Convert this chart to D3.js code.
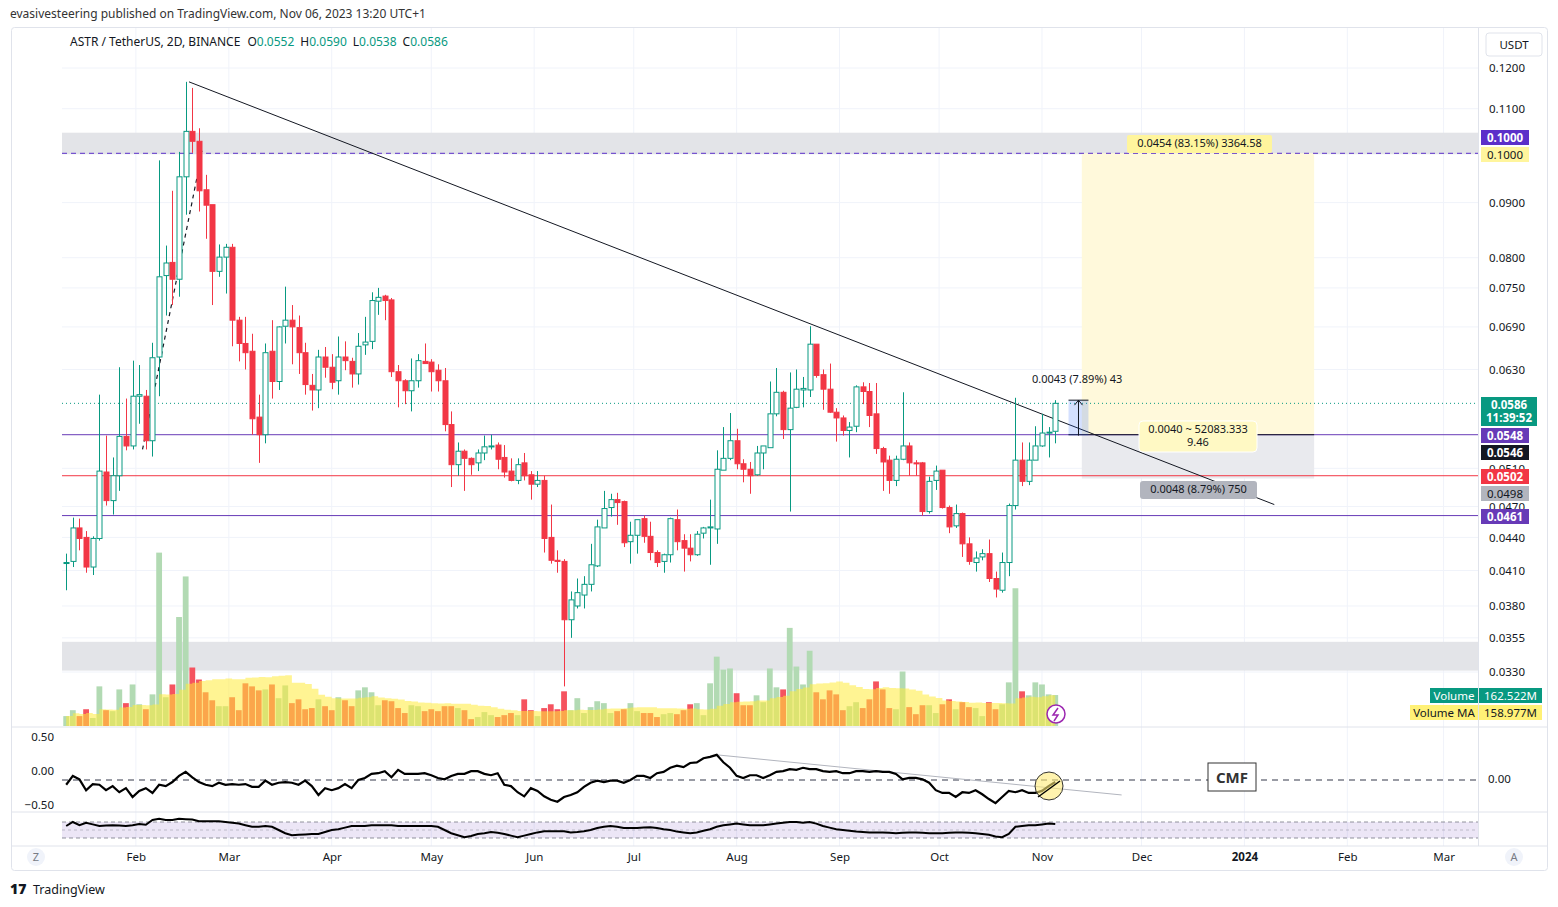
<!DOCTYPE html>
<html><head><meta charset="utf-8">
<script src="https://cdn.jsdelivr.net/npm/d3@7/dist/d3.min.js"></script>
<style>body{margin:0;background:#fff;font-family:"Noto Sans","Open Sans",sans-serif}</style>
</head><body><svg id="c" width="1558" height="907"></svg>
<script>
// ---- data (2D candles, last = Nov 05 2023) ----
const opens=[.0417,.0418,.0449,.0440,.0413,.0439,.0506,.0476,.0502,.0546,
.0535,.0595,.0595,.0541,.0647,.0770,.0792,.0764,.0951,.1048,
.1026,.0925,.0896,.0777,.0801,.0818,.0700,.0666,.0655,.0569,
.0548,.0655,.0614,.0691,.0700,.0689,.0653,.0609,.0603,.0647,
.0633,.0615,.0647,.0641,.0624,.0664,.0669,.0729,.0737,.0731,
.0627,.0615,.0602,.0615,.0641,.0640,.0629,.0615,.0560,.0514,
.0529,.0521,.0516,.0527,.0534,.0536,.0522,.0507,.0497,.0516,
.0503,.0493,.0497,.0440,.0419,.0418,.0369,.0380,.0389,.0398,
.0414,.0449,.0469,.0477,.0475,.0436,.0442,.0458,.0441,.0426,
.0418,.0424,.0457,.0437,.0430,.0424,.0444,.0449,.0448,.0508,
.0521,.0541,.0515,.0509,.0503,.0527,.0533,.0573,.0600,.0554,
.0581,.0603,.0603,.0665,.0623,.0604,.0575,.0568,.0553,.0558,
.0607,.0601,.0573,.0532,.0519,.0497,.0520,.0535,.0516,.0516,
.0465,.0497,.0508,.0469,.0451,.0463,.0434,.0417,.0422,.0425,
.0403,.0393,.0417,.0471,.0519,.0496,.0519,.0535,.0550,.0552];
const highs=[.0425,.0459,.0458,.0446,.0441,.0597,.0547,.0522,.0633,.0592,
.0642,.0636,.0603,.0667,.0985,.0821,.0923,.1003,.1165,.1150,
.1055,.0955,.0896,.0823,.0824,.0824,.0705,.0705,.0680,.0597,
.0666,.0700,.0691,.0752,.0723,.0707,.0667,.0624,.0657,.0661,
.0651,.0676,.0669,.0646,.0681,.0705,.0743,.0750,.0739,.0734,
.0636,.0617,.0645,.0651,.0666,.0644,.0637,.0632,.0576,.0539,
.0531,.0522,.0531,.0547,.0548,.0539,.0536,.0521,.0521,.0527,
.0507,.0507,.0502,.0472,.0428,.0420,.0392,.0403,.0405,.0434,
.0457,.0486,.0483,.0484,.0476,.0455,.0457,.0461,.0455,.0428,
.0425,.0459,.0467,.0443,.0443,.0446,.0450,.0477,.0530,.0557,
.0574,.0555,.0520,.0517,.0535,.0535,.0614,.0632,.0602,.0626,
.0630,.0620,.0691,.0665,.0630,.0638,.0580,.0571,.0563,.0609,
.0613,.0612,.0612,.0534,.0524,.0524,.0600,.0539,.0519,.0517,
.0501,.0513,.0508,.0471,.0472,.0464,.0440,.0427,.0429,.0438,
.0409,.0426,.0473,.0593,.0539,.0539,.0558,.0573,.0557,.0590];
const lows=[.0393,.0413,.0428,.0408,.0406,.0437,.0471,.0462,.0486,.0530,
.0531,.0561,.0531,.0523,.0595,.0707,.0723,.0736,.0877,.1001,
.0883,.0833,.0723,.0768,.0741,.0662,.0641,.0630,.0548,.0516,
.0538,.0592,.0603,.0666,.0637,.0624,.0597,.0577,.0580,.0619,
.0604,.0597,.0629,.0606,.0610,.0650,.0658,.0708,.0700,.0620,
.0581,.0585,.0576,.0606,.0638,.0601,.0601,.0552,.0490,.0502,
.0486,.0503,.0507,.0519,.0531,.0509,.0500,.0496,.0493,.0497,
.0477,.0490,.0426,.0416,.0408,.0320,.0355,.0378,.0378,.0392,
.0413,.0449,.0460,.0452,.0431,.0416,.0425,.0435,.0419,.0413,
.0408,.0417,.0428,.0409,.0418,.0423,.0439,.0415,.0434,.0508,
.0519,.0509,.0495,.0483,.0502,.0509,.0533,.0570,.0543,.0465,
.0580,.0581,.0594,.0619,.0578,.0574,.0540,.0547,.0522,.0551,
.0585,.0557,.0526,.0486,.0483,.0491,.0519,.0502,.0502,.0461,
.0463,.0487,.0468,.0444,.0449,.0422,.0415,.0409,.0419,.0400,
.0387,.0391,.0405,.0467,.0491,.0492,.0519,.0534,.0522,.0538];
const closes=[.0417,.0449,.0439,.0413,.0439,.0507,.0476,.0502,.0546,.0535,
.0595,.0597,.0541,.0646,.0768,.0791,.0764,.0951,.1048,.1026,
.0923,.0895,.0777,.0801,.0818,.0700,.0666,.0653,.0567,.0548,
.0653,.0614,.0690,.0700,.0690,.0653,.0610,.0603,.0647,.0633,
.0613,.0647,.0642,.0624,.0662,.0668,.0730,.0735,.0730,.0627,
.0615,.0602,.0615,.0642,.0638,.0627,.0615,.0560,.0514,.0529,
.0521,.0514,.0527,.0534,.0535,.0520,.0506,.0497,.0514,.0502,
.0493,.0497,.0439,.0419,.0418,.0369,.0385,.0391,.0398,.0415,
.0450,.0468,.0477,.0474,.0435,.0442,.0457,.0441,.0426,.0417,
.0424,.0458,.0436,.0430,.0424,.0443,.0449,.0450,.0509,.0521,
.0541,.0515,.0509,.0502,.0527,.0535,.0573,.0600,.0554,.0580,
.0604,.0605,.0665,.0622,.0604,.0575,.0568,.0553,.0557,.0607,
.0601,.0571,.0532,.0517,.0497,.0520,.0535,.0516,.0515,.0465,
.0496,.0507,.0469,.0450,.0463,.0434,.0418,.0421,.0425,.0403,
.0394,.0417,.0471,.0519,.0496,.0519,.0535,.0550,.0551,.0586];
const volumes=[52,83,52,88,42,208,83,78,192,120,
218,114,88,166,910,151,218,572,785,307,
244,177,135,104,104,151,83,224,208,187,
192,218,146,213,120,140,88,94,140,104,
83,151,135,104,187,203,177,109,135,130,
94,68,109,104,78,88,78,104,104,94,
83,36,47,73,57,47,57,68,57,140,
83,52,94,114,88,182,83,146,68,99,
130,120,68,78,88,120,78,68,68,47,
62,68,62,83,114,120,57,224,364,296,
302,172,109,109,161,125,302,203,192,515,
312,218,395,177,140,187,166,83,104,125,
94,140,234,192,94,88,286,99,62,109,
109,68,114,140,88,125,99,94,52,125,
88,114,229,723,182,161,229,218,166,162.5];
const cmf=[-.07,.06,.01,-.15,-.06,-.07,-.15,-.09,-.18,-.12,
-.25,-.16,-.12,-.19,-.07,-.09,-.03,.06,.12,.04,
-.03,-.07,-.09,-.04,-.07,-.06,-.07,-.06,-.10,-.10,
-.01,-.07,-.04,-.03,-.04,-.07,-.01,-.09,-.22,-.12,
-.15,-.12,-.06,-.12,0,.03,.09,.10,.13,.04,
.15,.09,.09,.09,.10,.07,.03,.01,.06,.09,
.09,.13,.13,.09,.07,.10,-.07,-.09,-.18,-.24,
-.12,-.16,-.24,-.29,-.32,-.25,-.22,-.18,-.10,-.04,
-.01,-.03,-.01,-.01,-.04,0,.06,.06,.03,.10,
.12,.18,.21,.19,.25,.26,.32,.34,.37,.26,
.18,.06,.03,.07,.07,.03,.07,.12,.13,.16,
.15,.18,.16,.16,.13,.12,.13,.10,.10,.13,
.13,.12,.13,.12,.12,.09,.01,.03,.03,.01,
-.04,-.15,-.19,-.19,-.25,-.18,-.19,-.15,-.21,-.28,
-.34,-.25,-.16,-.18,-.15,-.19,-.19,-.16,-.09,-.03];
const rsi=[60,70,62,68,64,60,61,62,61,60,
62,65,63,75,78,75,75,78,77,76,
72,72,72,72,70,68,66,62,58,58,
60,58,50,42,37,38,39,40,40,45,
50,52,56,60,60,60,62,62,62,62,
60,60,60,60,60,60,58,50,42,37,
32,35,40,42,45,43,40,36,32,36,
40,44,47,47,47,47,44,45,47,50,
55,58,60,58,55,55,55,56,57,55,
52,50,46,44,42,44,48,52,58,62,
64,66,64,62,62,62,64,66,68,70,
70,68,70,66,60,56,52,50,48,46,
45,44,44,44,43,42,43,44,44,43,
42,42,42,43,44,44,43,42,40,38,
34,32,40,58,60,62,62,64,66,65];
const priceTicks=[0.12,0.11,0.09,0.08,0.075,0.069,0.063,0.051,0.047,0.044,0.041,0.038,0.0355,0.033];
const monthTicks=["2023-02-01","2023-03-01","2023-04-01","2023-05-01","2023-06-01","2023-07-01","2023-08-01","2023-09-01","2023-10-01","2023-11-01","2023-12-01","2024-01-01","2024-02-01","2024-03-01"];
const monthLabels=["Feb","Mar","Apr","May","Jun","Jul","Aug","Sep","Oct","Nov","Dec","2024","Feb","Mar"];
const lastDate=Date.UTC(2023,10,5), DAY=864e5;
const dates=closes.map((_,i)=>new Date(lastDate-2*DAY*(149-i)));

// ---- scales ----
const svg=d3.select("#c");
const L=62,R=1478;
const x=d3.scaleUtc().domain([new Date(Date.UTC(2023,0,1)),new Date(Date.UTC(2024,2,10))]).range([33,33+434*3.319]);
const y=d3.scaleLog().domain([0.033,0.12]).range([672,68]);
const yv=d3.scaleLinear().domain([0,950]).range([726,545]);
const yc=d3.scaleLinear().domain([-1,1]).range([848,712]);
const yr=d3.scaleLinear().domain([0,100]).range([850,810]);
const F="Noto Sans, sans-serif";

svg.append("text").attr("x",10).attr("y",18).attr("font-size",12).attr("fill","#333").attr("font-family",F)
 .text("evasivesteering published on TradingView.com, Nov 06, 2023 13:20 UTC+1");
svg.append("rect").attr("x",11.5).attr("y",27.5).attr("width",1536).attr("height",843).attr("rx",3).attr("fill","#fff").attr("stroke","#e0e3eb");
const g=svg.append("g");
monthTicks.forEach(m=>{const xx=x(new Date(m));g.append("line").attr("x1",xx).attr("x2",xx).attr("y1",28).attr("y2",846).attr("stroke","#f0f3fa");});
priceTicks.concat([0.1]).forEach(p=>g.append("line").attr("x1",L).attr("x2",R).attr("y1",y(p)).attr("y2",y(p)).attr("stroke","#f0f3fa"));
[727,812,846].forEach(v=>svg.append("line").attr("x1",12).attr("x2",1547).attr("y1",v).attr("y2",v).attr("stroke","#e0e3eb"));
svg.append("line").attr("x1",R+0.5).attr("x2",R+0.5).attr("y1",28).attr("y2",846).attr("stroke","#e0e3eb");

svg.append("defs").append("clipPath").attr("id","pc").append("rect").attr("x",L).attr("y",28).attr("width",R-L).attr("height",700);
const P=svg.append("g").attr("clip-path","url(#pc)");

P.append("rect").attr("x",L).attr("width",R-L).attr("y",y(0.1045)).attr("height",y(0.0998)-y(0.1045)).attr("fill","#e3e4e8");
P.append("rect").attr("x",L).attr("width",R-L).attr("y",y(0.0352)).attr("height",y(0.0331)-y(0.0352)).attr("fill","#e3e4e8");
const pX1=x(new Date(Date.UTC(2023,10,13))),pX2=x(new Date(Date.UTC(2024,0,22)));
P.append("rect").attr("x",pX1).attr("width",pX2-pX1).attr("y",y(0.1)).attr("height",y(0.0548)-y(0.1)).attr("fill","#fff9db");
P.append("rect").attr("x",pX1).attr("width",pX2-pX1).attr("y",y(0.0548)).attr("height",y(0.0499)-y(0.0548)).attr("fill","#e9eaee");
P.append("line").attr("x1",L).attr("x2",R).attr("y1",y(0.1)).attr("y2",y(0.1)).attr("stroke","#5b2fc9").attr("stroke-dasharray","5,4");
P.append("line").attr("x1",L).attr("x2",R).attr("y1",y(0.0548)).attr("y2",y(0.0548)).attr("stroke","#673ab7");
P.append("line").attr("x1",L).attr("x2",R).attr("y1",y(0.0502)).attr("y2",y(0.0502)).attr("stroke","#f23645");
P.append("line").attr("x1",L).attr("x2",R).attr("y1",y(0.0461)).attr("y2",y(0.0461)).attr("stroke","#673ab7");
P.append("line").attr("x1",L).attr("x2",R).attr("y1",y(0.0586)).attr("y2",y(0.0586)).attr("stroke","#089981").attr("stroke-dasharray","1,3");
P.append("line").attr("x1",x(new Date(Date.UTC(2023,10,9)))).attr("x2",pX2).attr("y1",y(0.0548)).attr("y2",y(0.0548)).attr("stroke","#131722");

const volG=P.append("g");
const xw=4.6;
volumes.forEach((v,i)=>{const up=closes[i]>=opens[i];
 volG.append("rect").attr("x",x(dates[i])-xw/2-0.6).attr("width",xw+1.2).attr("y",yv(v)).attr("height",726-yv(v)).attr("fill",up?"#b2dab3":"#f5535f");});
const ma=volumes.map((_,i)=>d3.mean(volumes.slice(Math.max(0,i-19),i+1)));
P.append("path").datum(ma).attr("fill","rgba(255,235,59,0.55)")
 .attr("d",d3.area().x((d,i)=>x(dates[i])).y0(726).y1(d=>yv(d)).curve(d3.curveStepAfter));

P.append("line").attr("x1",x(new Date(Date.UTC(2023,1,17)))).attr("y1",y(0.1165)).attr("x2",x(new Date(Date.UTC(2024,0,10)))).attr("y2",y(0.0472)).attr("stroke","#131722");
P.append("line").attr("x1",x(new Date(Date.UTC(2023,1,3)))).attr("y1",y(0.0531)).attr("x2",x(new Date(Date.UTC(2023,1,21)))).attr("y2",y(0.1005)).attr("stroke","#131722").attr("stroke-width",1.2).attr("stroke-dasharray","4,4");

const cg=P.append("g");
closes.forEach((c,i)=>{const o=opens[i],up=c>=o,col=up?"#089981":"#f23645",cx=Math.round(x(dates[i]))+0.5;
 const top=y(Math.max(o,c)),bot=y(Math.min(o,c));
 cg.append("line").attr("x1",cx).attr("x2",cx).attr("y1",y(highs[i])).attr("y2",top).attr("stroke",col);
 cg.append("line").attr("x1",cx).attr("x2",cx).attr("y1",bot).attr("y2",y(lows[i])).attr("stroke",col);
 cg.append("rect").attr("x",cx-2.5).attr("width",5).attr("y",top).attr("height",Math.max(1,bot-top)).attr("fill",up?"#fff":col).attr("stroke",col);
});

const rX1=x(new Date(Date.UTC(2023,10,9))),rX2=x(new Date(Date.UTC(2023,10,15))),rM=(rX1+rX2)/2;
P.append("rect").attr("x",rX1).attr("width",rX2-rX1).attr("y",y(0.0590)).attr("height",y(0.0547)-y(0.0590)).attr("fill","rgba(41,98,255,0.2)");
P.append("line").attr("x1",rM).attr("x2",rM).attr("y1",y(0.0590)).attr("y2",y(0.0547)).attr("stroke","#131722");
P.append("path").attr("d",`M${rM-4},${y(0.0590)+5}L${rM},${y(0.0590)}L${rM+4},${y(0.0590)+5}`).attr("fill","none").attr("stroke","#131722");
P.append("line").attr("x1",rX1).attr("x2",rX2).attr("y1",y(0.0590)).attr("y2",y(0.0590)).attr("stroke","#131722");

function box(x0,y0,w,h,fill,lines,color,opt={}){
 svg.append("rect").attr("x",x0).attr("y",y0).attr("width",w).attr("height",h).attr("rx",opt.rx||0).attr("fill",fill).attr("stroke",opt.stroke||"none");
 lines.forEach((t,k)=>svg.append("text").attr("x",x0+w/2).attr("y",y0+(opt.ty||12)+k*12.5).attr("text-anchor","middle")
  .attr("font-size",opt.fs||11.5).attr("font-weight",opt.bold?"bold":"normal").attr("fill",color).attr("font-family",F).text(t));
}
box(1127,135,145,18,"#fff59d",["0.0454 (83.15%) 3364.58"],"#131722",{rx:2,fs:11});
box(1139,421,118,31,"#fff9c4",["0.0040 ~ 52083.333","9.46"],"#131722",{rx:4,stroke:"#fff",fs:11});
box(1140,481,117,18,"#b2b5be",["0.0048 (8.79%) 750"],"#131722",{rx:3,fs:11});
svg.append("text").attr("x",1032).attr("y",383).attr("font-size",11).attr("fill","#131722").attr("font-family",F).text("0.0043 (7.89%) 43");

// right axis (0.0510/0.0470 partly hidden behind labels, as in the reference)
const ax=svg.append("g").attr("transform",`translate(${R+4},0)`).call(d3.axisRight(y).tickValues(priceTicks).tickFormat(d3.format(".4f")).tickSize(0));
ax.select(".domain").remove();
ax.selectAll("text").attr("font-size",11.5).attr("fill","#131722").attr("font-family",F).attr("dx",4);
box(1481,130,48,15,"#5b2fc9",["0.1000"],"#fff",{bold:true});
box(1481,147,48,15,"#fff59d",["0.1000"],"#131722");
box(1481,397,56,29,"#089981",["0.0586","11:39:52"],"#fff",{bold:true});
box(1481,428,48,15,"#673ab7",["0.0548"],"#fff",{bold:true});
box(1481,445,48,15,"#131722",["0.0546"],"#fff",{bold:true});
box(1481,469,48,15,"#f23645",["0.0502"],"#fff",{bold:true});
box(1481,486,48,15,"#b2b5be",["0.0498"],"#131722");
box(1481,509,48,15,"#673ab7",["0.0461"],"#fff",{bold:true});
box(1486,33,56,23,"#fff",["USDT"],"#131722",{rx:3,stroke:"#e0e3eb",ty:16});
box(1430,688,48,15,"#089981",["Volume"],"#fff");
box(1479,688,63,15,"#089981",["162.522M"],"#fff");
box(1410,705,68,15,"#fff176",["Volume MA"],"#131722");
box(1479,705,63,15,"#fff176",["158.977M"],"#131722");
svg.append("circle").attr("cx",1056).attr("cy",714).attr("r",9).attr("fill","#fff").attr("stroke","#9c27b0").attr("stroke-width",1.5);
svg.append("path").attr("d","M1058,708L1053,715L1058,715L1054,721").attr("fill","none").attr("stroke","#9c27b0").attr("stroke-width",1.5);

const hdr=svg.append("text").attr("x",70).attr("y",46).attr("font-size",12).attr("font-family",F).attr("fill","#131722").attr("xml:space","preserve");
hdr.append("tspan").text("ASTR / TetherUS, 2D, BINANCE");
hdr.append("tspan").attr("dx",7).text("O");hdr.append("tspan").attr("fill","#089981").text("0.0552");
hdr.append("tspan").attr("dx",6).text("H");hdr.append("tspan").attr("fill","#089981").text("0.0590");
hdr.append("tspan").attr("dx",6).text("L");hdr.append("tspan").attr("fill","#089981").text("0.0538");
hdr.append("tspan").attr("dx",6).text("C");hdr.append("tspan").attr("fill","#089981").text("0.0586");

// CMF panel
svg.append("line").attr("x1",L).attr("x2",R).attr("y1",yc(0)).attr("y2",yc(0)).attr("stroke","#787b86").attr("stroke-width",1.5).attr("stroke-dasharray","6,5");
svg.append("line").attr("x1",x(dates[98])).attr("y1",yc(0.37)).attr("x2",x(new Date(Date.UTC(2023,10,25)))).attr("y2",yc(-0.22)).attr("stroke","#b2b5be");
svg.append("path").datum(cmf).attr("fill","none").attr("stroke","#000").attr("stroke-width",2.2)
 .attr("d",d3.line().x((d,i)=>x(dates[i])).y(d=>yc(d)));
svg.append("circle").attr("cx",1049).attr("cy",786).attr("r",14).attr("fill","rgba(255,235,120,0.6)").attr("stroke","#333");
svg.append("line").attr("x1",1038).attr("y1",797).attr("x2",1060).attr("y2",781).attr("stroke","#000").attr("stroke-width",1.5);
box(1208,763,48,28,"#fff",["CMF"],"#333",{stroke:"#333",fs:15,bold:true,ty:20});
[[0.5,737],[0,771],[-0.5,805]].forEach(([v,yy])=>svg.append("text").attr("x",54).attr("y",yy+4).attr("text-anchor","end").attr("font-size",11.5).attr("fill","#131722").attr("font-family",F).text(d3.format(".2f")(v).replace("-","−")));
svg.append("text").attr("x",1488).attr("y",783).attr("font-size",11.5).attr("fill","#131722").attr("font-family",F).text("0.00");

// lower oscillator panel
svg.append("rect").attr("x",L).attr("width",R-L).attr("y",yr(70)).attr("height",yr(30)-yr(70)).attr("fill","rgba(126,87,194,0.15)");
[70,50,30].forEach(v=>svg.append("line").attr("x1",L).attr("x2",R).attr("y1",yr(v)).attr("y2",yr(v)).attr("stroke","#787b86").attr("stroke-dasharray",v===50?"3,3":"4,3").attr("opacity",v===50?0.4:0.8));
svg.append("path").datum(rsi).attr("fill","none").attr("stroke","#000").attr("stroke-width",2)
 .attr("d",d3.line().x((d,i)=>x(dates[i])).y(d=>yr(d)));

const xa=svg.append("g").attr("transform","translate(0,850)").call(d3.axisBottom(x).tickValues(monthTicks.map(m=>new Date(m))).tickFormat((d,i)=>monthLabels[i]).tickSize(0));
xa.select(".domain").remove();
xa.selectAll("text").attr("font-size",11.5).attr("fill","#131722").attr("font-family",F).attr("font-weight",(d,i)=>monthLabels[i]==="2024"?"bold":"normal");
[[36,"Z"],[1514,"A"]].forEach(([cx,t])=>{svg.append("circle").attr("cx",cx).attr("cy",857).attr("r",9).attr("fill","#f0f3fa");
 svg.append("text").attr("x",cx).attr("y",861).attr("text-anchor","middle").attr("font-size",11).attr("fill","#787b86").attr("font-family",F).text(t);});
svg.append("text").attr("x",10).attr("y",894).attr("font-size",14).attr("font-weight","900").attr("fill","#131722").attr("font-family",F).text("17");
svg.append("text").attr("x",33).attr("y",894).attr("font-size",12.5).attr("fill","#131722").attr("font-family",F).text("TradingView");
</script></body></html>
